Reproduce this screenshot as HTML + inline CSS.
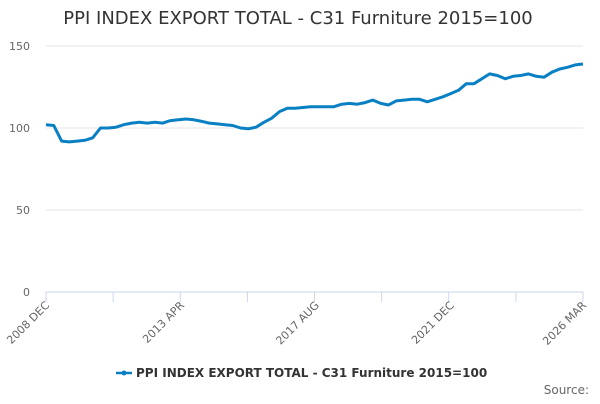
<!DOCTYPE html>
<html><head><meta charset="utf-8"><style>
body{margin:0;background:#fff;font-family:"DejaVu Sans",sans-serif}
svg text{font-family:"DejaVu Sans",sans-serif}
</style></head><body>
<svg width="600" height="400">
<text x="298" y="24" text-anchor="middle" font-size="18" fill="#333">PPI INDEX EXPORT TOTAL - C31 Furniture 2015=100</text>
<g id="grid"></g>
<g id="xaxis"></g>
<path id="line" fill="none" stroke="#0a80c4" stroke-width="3" stroke-linejoin="round"/>
<g>
<line x1="116" y1="373" x2="132" y2="373" stroke="#0a80c4" stroke-width="2.5"/>
<circle cx="124" cy="373" r="2.5" fill="#0a80c4"/>
<text x="136" y="377" font-size="12" font-weight="bold" fill="#333">PPI INDEX EXPORT TOTAL - C31 Furniture 2015=100</text>
</g>
<text x="589" y="394" text-anchor="end" font-size="12" fill="#666">Source:</text>
</svg>
<script>
const values=[102,101.5,92,91.5,92,92.5,94,100,100,100.5,102,103,103.5,103,103.5,103,104.5,105,105.5,105,104,103,102.5,102,101.5,100,99.5,100.5,103.5,106,110,112,112,112.5,113,113,113,113,114.5,115,114.5,115.5,117,115,114,116.5,117,117.5,117.5,116,117.5,119,121,123,127,127,130,133,132,130,131.5,132,133,131.5,131,134,136,137,138.5,139];
const yTicks=[0,50,100,150];
const xTickLabels=["2008 DEC","2013 APR","2017 AUG","2021 DEC","2026 MAR"];
const xTickMonths=[0,52,104,156,207];
const NS="http://www.w3.org/2000/svg";
const x0=46,x1=583,y0=292,yTop=46;
const totalMonths=207;
const xs=m=>x0+(x1-x0)*m/totalMonths;
const ys=v=>y0-(y0-yTop)*v/150;
const grid=document.getElementById('grid');
yTicks.forEach(t=>{
 const l=document.createElementNS(NS,'line');
 
 
 l.setAttribute('x1',x0);l.setAttribute('x2',x1);l.setAttribute('y1',ys(t));l.setAttribute('y2',ys(t));
 l.setAttribute('stroke',t===0?'#ccd6eb':'#e6e6e6');grid.appendChild(l);
 const tx=document.createElementNS(NS,'text');
 
 
 tx.setAttribute('x',30);tx.setAttribute('y',ys(t)+4);tx.setAttribute('text-anchor','end');
 tx.setAttribute('font-size','11');tx.setAttribute('fill','#666');tx.textContent=t;grid.appendChild(tx);
});
const xa=document.getElementById('xaxis');
for(let k=0;k<=8;k++){
 const m=totalMonths*k/8;
 const l=document.createElementNS(NS,'line');
 
 
 l.setAttribute('x1',xs(m));l.setAttribute('x2',xs(m));l.setAttribute('y1',y0);l.setAttribute('y2',y0+10);
 l.setAttribute('stroke','#ccd6eb');xa.appendChild(l);
}
xTickLabels.forEach((s,i)=>{
 const x=xs(xTickMonths[i]),y=y0+10;
 const tx=document.createElementNS(NS,'text');
 
 
 tx.setAttribute('x',x+4);tx.setAttribute('y',y+4);tx.setAttribute('text-anchor','end');
 tx.setAttribute('transform',`rotate(-45 ${x+4} ${y+4})`);
 tx.setAttribute('font-size','11');tx.setAttribute('fill','#666');tx.textContent=s;xa.appendChild(tx);
});
const step=totalMonths/(values.length-1);
document.getElementById('line').setAttribute('d',values.map((v,i)=>(i?'L':'M')+xs(i*step).toFixed(1)+','+ys(v).toFixed(1)).join(''));
</script>
</body></html>
